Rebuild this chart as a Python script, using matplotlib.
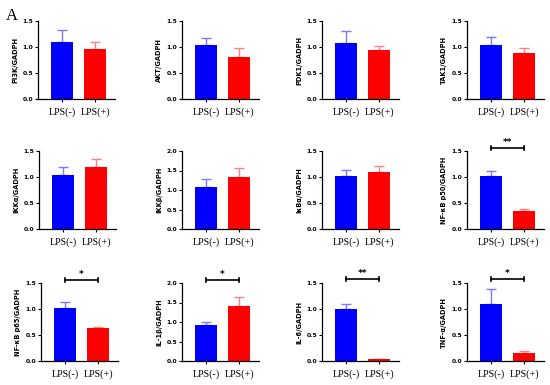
"""Twelve-panel bar chart: protein / GADPH ratios, LPS(-) vs LPS(+)."""

import matplotlib
matplotlib.use("agg")
import matplotlib.pyplot as plt
from matplotlib.ticker import FormatStrFormatter, MultipleLocator

groups = ["LPS(-)", "LPS(+)"]
ylabels = [
    "PI3K/GADPH", "AKT/GADPH", "PDK1/GADPH", "TAK1/GADPH",
    "IKKα/GADPH", "IKKβ/GADPH", "IκBα/GADPH", "NF-κB p50/GADPH",
    "NF-κB p65/GADPH", "IL-1β/GADPH", "IL-6/GADPH", "TNF-α/GADPH",
]
ctrl_mean = [1.10, 1.03, 1.07, 1.04, 1.04, 1.07, 1.02, 1.01, 1.01, 0.93, 1.00, 1.10]
ctrl_err = [0.23, 0.15, 0.24, 0.16, 0.16, 0.21, 0.12, 0.10, 0.13, 0.08, 0.09, 0.28]
lps_mean = [0.97, 0.80, 0.95, 0.89, 1.20, 1.33, 1.09, 0.34, 0.64, 1.42, 0.03, 0.16]
lps_err = [0.13, 0.18, 0.07, 0.10, 0.15, 0.23, 0.12, 0.05, 0.02, 0.23, 0.005, 0.03]
ymax = [1.5, 1.5, 1.5, 1.5, 1.5, 2.0, 1.5, 1.5, 1.5, 2.0, 1.5, 1.5]
signif = [None, None, None, None, None, None, None, "**", "*", "*", "**", "*"]
signif_y = [0, 0, 0, 0, 0, 0, 0, 1.55, 1.55, 2.08, 1.58, 1.57]

W, H = 550, 385
# axes boxes in pixels: left, top, width, height
lefts = [38, 182, 322, 467, 39, 182, 322, 467, 41, 182, 322, 467]
tops = [21] * 4 + [151] * 4 + [283] * 4
ax_w, ax_h = 77, 78

fig = plt.figure(figsize=(W / 100, H / 100), dpi=100)
fig.patch.set_facecolor("white")

for i in range(12):
    ax = fig.add_axes([lefts[i] / W, (H - tops[i] - ax_h) / H, ax_w / W, ax_h / H])
    ax.bar([0, 1], [ctrl_mean[i], lps_mean[i]], width=0.68,
           color=["#0000ff", "#ff0000"], zorder=2)
    ax.errorbar([0], [ctrl_mean[i]], yerr=[[0], [ctrl_err[i]]], fmt="none",
                ecolor="#7a7aff", elinewidth=1.0, capsize=3.5, capthick=1.0, zorder=1)
    ax.errorbar([1], [lps_mean[i]], yerr=[[0], [lps_err[i]]], fmt="none",
                ecolor="#ff8080", elinewidth=1.0, capsize=3.5, capthick=1.0, zorder=1)

    ax.set_xlim(-0.72, 1.6)
    ax.set_ylim(0, ymax[i])
    ax.yaxis.set_major_locator(MultipleLocator(0.5))
    ax.yaxis.set_major_formatter(FormatStrFormatter("%.1f"))
    ax.set_xticks([0, 1])
    ax.set_xticklabels(groups, family="Liberation Serif", fontsize=7.2)
    for lab in ax.get_yticklabels():
        lab.set_fontsize(4.3)
        lab.set_fontweight("bold")
    ax.tick_params(axis="y", length=2.5, width=0.8, pad=1)
    ax.tick_params(axis="x", length=2.5, width=0.8, pad=3.5)
    for side in ("top", "right"):
        ax.spines[side].set_visible(False)
    for side in ("left", "bottom"):
        ax.spines[side].set_linewidth(0.9)
    ax.set_ylabel(ylabels[i], fontsize=4.8, fontweight="bold", labelpad=3)

    if signif[i]:
        y = signif_y[i]
        cap = ymax[i] * 0.025
        ax.plot([0, 1], [y, y], color="black", lw=1.2, clip_on=False)
        ax.plot([0, 0], [y - cap, y + cap], color="black", lw=1.2, clip_on=False)
        ax.plot([1, 1], [y - cap, y + cap], color="black", lw=1.2, clip_on=False)
        ax.text(0.5, y + cap * 0.6, signif[i], ha="center", va="bottom",
                fontsize=6.5, fontweight="bold", clip_on=False)

fig.text(6 / W, 1 - 20 / H, "A", family="Liberation Serif", fontsize=12)

fig.savefig("out.png", dpi=100)
